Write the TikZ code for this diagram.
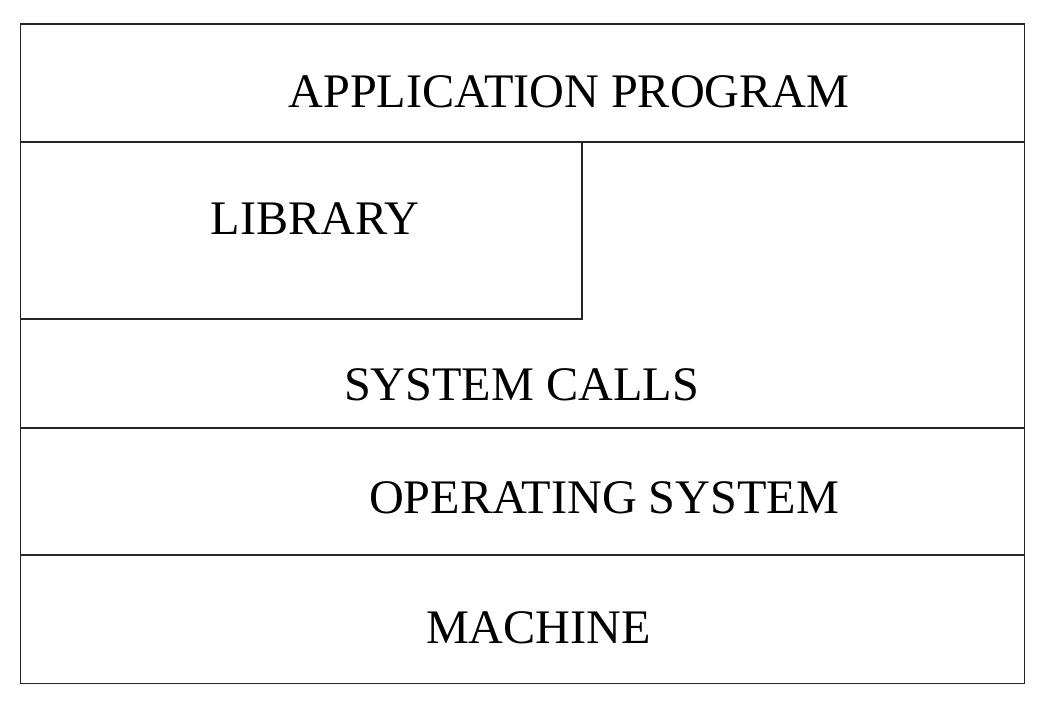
\documentclass[tikz,border=0pt]{standalone}
\usepackage{fontspec}
\setmainfont{Liberation Serif}
\begin{document}
\begin{tikzpicture}[x=1pt,y=-1pt,
  rule/.style={line width=1.5pt, black!85},
  layer/.style={anchor=base, inner sep=0pt, font=\fontsize{48.2}{50}\selectfont}]
\useasboundingbox (0,0) rectangle (1053,709);
% frame and layer boundaries
\coordinate (tl) at (20.5,24);
\coordinate (br) at (1024.5,683.5);
\draw[rule] (tl) rectangle (br);
\coordinate (a1) at (20.5,142); \coordinate (a2) at (1024.5,142);
\coordinate (l1) at (582,142); \coordinate (l2) at (582,319); \coordinate (l3) at (20.5,319);
\coordinate (s1) at (20.5,428); \coordinate (s2) at (1024.5,428);
\coordinate (o1) at (20.5,555); \coordinate (o2) at (1024.5,555);
\draw[rule] (a1) -- (a2);
\draw[rule] (l1) -- (l2) -- (l3);
\draw[rule] (s1) -- (s2);
\draw[rule] (o1) -- (o2);
% layer labels
\node[layer] (app) at (569,107) {APPLICATION PROGRAM};
\node[layer] (lib) at (315,234) {LIBRARY};
\node[layer] (sys) at (521.5,400) {SYSTEM CALLS};
\node[layer] (os) at (604,513) {OPERATING SYSTEM};
\node[layer] (mach) at (538.5,643) {MACHINE};
\end{tikzpicture}
\end{document}
